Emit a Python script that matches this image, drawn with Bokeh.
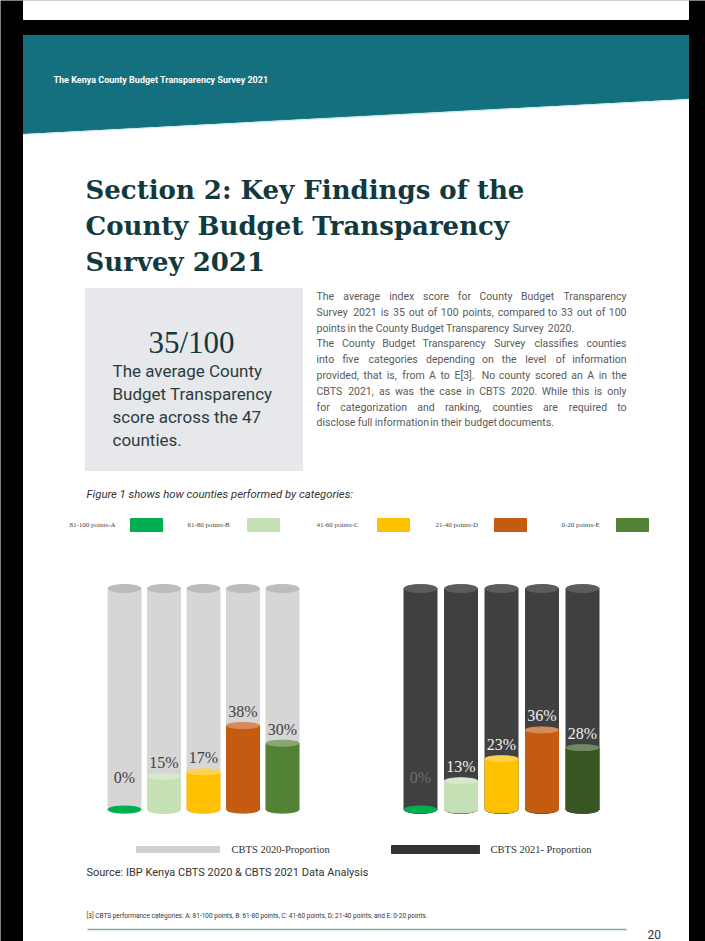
from bokeh.plotting import figure
from bokeh.models import Range1d
from bokeh.core.properties import value
from bokeh.embed import file_html
from bokeh.resources import INLINE

# ---------------- data ----------------
categories = ["A", "B", "C", "D", "E"]
legend_labels = ["81-100 points-A", "61-80 points-B", "41-60 points-C", "21-40 points-D", "0-20 points-E"]
share_2020 = [0, 15, 17, 38, 30]
share_2021 = [0, 13, 23, 36, 28]
colors_2020 = ["#00b050", "#c5e0b4", "#ffc000", "#c55a11", "#548235"]
colors_2021 = ["#00b050", "#c5e0b4", "#ffc000", "#c55a11", "#375623"]
series_names = ["CBTS 2020-Proportion", "CBTS 2021- Proportion"]

header_text = "The Kenya County Budget Transparency Survey 2021"
title_lines = ["Section 2: Key Findings of the", "County Budget Transparency", "Survey 2021"]
score_text = "35/100"
box_lines = ["The average County", "Budget Transparency", "score across the 47", "counties."]
para_lines = [
    "The average index score for County Budget Transparency",
    "Survey 2021 is 35 out of 100 points, compared to 33 out of 100",
    "points in the County Budget Transparency Survey 2020.",
    "The County Budget Transparency Survey classifies counties",
    "into five categories depending on the level of information",
    "provided, that is, from A to E[3]. No county scored an A in the",
    "CBTS 2021, as was the case in CBTS 2020. While this is only",
    "for categorization and ranking, counties are required to",
    "disclose full information in their budget documents.",
]
para_last_lines = [2, 8]   # paragraph-ending lines are not justified
figure_caption = "Figure 1 shows how counties performed by categories:"
source_text = "Source: IBP Kenya CBTS 2020 & CBTS 2021 Data Analysis"
footnote_text = ("[3] CBTS performance categories: A: 81-100 points, B: 61-80 points, "
                 "C: 41-60 points, D: 21-40 points, and E: 0-20 points.")
page_number = "20"

# ---------------- helpers ----------------
def lighten(hex_color, f):
    h = hex_color.lstrip("#")
    r, g, b = (int(h[i:i + 2], 16) for i in (0, 2, 4))
    r = int(r + (255 - r) * f); g = int(g + (255 - g) * f); b = int(b + (255 - b) * f)
    return "#%02x%02x%02x" % (r, g, b)

def est_width(s, size):
    w = 0.0
    for ch in s:
        if ch in "iljI.,:;!|'":
            w += 0.25
        elif ch in "ft[]()r":
            w += 0.34
        elif ch in "mw":
            w += 0.86
        elif ch in "MW":
            w += 0.88
        elif ch == " ":
            w += 0.25
        elif ch.isupper():
            w += 0.64
        elif ch.isdigit():
            w += 0.56
        else:
            w += 0.53
    return w * size

# page geometry (pixel coordinates of the screenshot)
X_MIN, X_MAX, Y_MIN, Y_MAX = 0, 705, 0, 941
BASE_Y, TOP_Y = 809, 588          # cylinder bottom / top on the page
k = (BASE_Y - TOP_Y) / 100.0      # px per percent

p = figure(width=X_MAX - X_MIN, height=Y_MAX - Y_MIN,
           x_range=Range1d(X_MIN, X_MAX), y_range=Range1d(Y_MAX, Y_MIN),
           output_backend="svg", toolbar_location=None, min_border=0,
           x_axis_location=None, y_axis_location=None)
p.grid.visible = False
p.outline_line_color = None
p.background_fill_color = "black"
p.border_fill_color = "black"
p.extra_y_ranges = {"pct": Range1d((BASE_Y - Y_MAX) / k, (BASE_Y - Y_MIN) / k)}

# page background
p.quad(left=[23], right=[688], top=[0], bottom=[19], color="white")
p.quad(left=[23], right=[688], top=[35], bottom=[941], color="white")

# teal header
p.patch([23, 688, 688, 23], [35, 35, 98, 133], color="#14707e")
p.line([23, 688], [134, 99], line_color="#c8eef2", line_width=1.2)
p.text(x=[53], y=[79], text=[header_text], text_color="white", text_font=value("Roboto"),
       text_font_style="bold", text_font_size="9px", text_baseline="middle")

# title
SERIF = value("Liberation Serif")
TSERIF = value("DejaVu Serif")
SANS = value("Roboto")
p.text(x=[85] * 3, y=[189, 225, 261], text=title_lines, text_color="#12393d",
       text_font=TSERIF, text_font_style="bold", text_font_size="26px",
       text_baseline="alphabetic")

# grey box
p.quad(left=[85], right=[302], top=[288], bottom=[470], color="#e6e8eb")
p.text(x=[191], y=[342], text=[score_text], text_color="#12393d", text_font=SERIF,
       text_font_size="31px", text_align="center", text_baseline="alphabetic")
p.text(x=[112] * 4, y=[370 + 23 * i for i in range(4)], text=box_lines, text_color="#2b3c3f",
       text_font=SANS, text_font_size="17px", text_baseline="middle")

# paragraph (justified between 316 and 626)
PX0, PX1, PFS = 316, 626, 10.5
wx, wy, wt, wa = [], [], [], []
for i, line in enumerate(para_lines):
    y = 296 + 15.8 * i
    words = line.split(" ")
    if i in para_last_lines or len(words) == 1:
        x = PX0
        for w in words:
            wx.append(x); wy.append(y); wt.append(w); wa.append("left")
            x += est_width(w + " ", PFS)
        continue
    widths = [est_width(w, PFS) for w in words]
    gap = (PX1 - PX0 - sum(widths)) / (len(words) - 1)
    x = PX0
    for j, w in enumerate(words):
        if j == len(words) - 1:
            wx.append(PX1); wa.append("right")
        else:
            wx.append(x); wa.append("left")
        wy.append(y); wt.append(w)
        x += widths[j] + gap
p.text(x=wx, y=wy, text=wt, text_align=wa, text_color="#5a5a5a", text_font=SANS,
       text_font_size="%.1fpx" % PFS, text_baseline="middle")

# figure caption
p.text(x=[86], y=[494], text=[figure_caption], text_color="#333333", text_font=SANS,
       text_font_style="italic", text_font_size="11.3px", text_baseline="middle")

# category legend
leg_text_x = [69, 187, 316, 435, 561]
leg_sw_x = [130, 247, 377, 494, 616]
p.text(x=leg_text_x, y=[524] * 5, text=legend_labels, text_color="#444444", text_font=SERIF,
       text_font_size="7px", text_baseline="middle")
p.quad(left=leg_sw_x, right=[x + 32 for x in leg_sw_x], top=[518] * 5, bottom=[531] * 5,
       color=colors_2020)

# cylinders
def cylinders(centers, values, colors, body, cap, label_color, zero_label_color):
    w = 33
    p.vbar(x=centers, width=w, bottom=0, top=100, color=body, y_range_name="pct")
    p.ellipse(x=centers, y=[0] * 5, width=w, height=8, height_units="screen",
              color=body, y_range_name="pct")
    p.ellipse(x=centers, y=[100] * 5, width=w, height=8, height_units="screen",
              color=cap, y_range_name="pct")
    p.vbar(x=centers, width=w, bottom=0, top=values, color=colors, y_range_name="pct")
    p.ellipse(x=centers, y=[0] * 5, width=w, height=7, height_units="screen",
              color=colors, y_range_name="pct")
    nz = [i for i, v in enumerate(values) if v > 0]
    p.ellipse(x=[centers[i] for i in nz], y=[values[i] for i in nz], width=w, height=6,
              height_units="screen", color=[lighten(colors[i], 0.3) for i in nz],
              y_range_name="pct")
    lab_y = [max(v, 8) for v in values]
    lab_c = [label_color if v > 0 else zero_label_color for v in values]
    p.text(x=centers, y=lab_y, text=["%d%%" % v for v in values], text_color=lab_c,
           text_font=SERIF, text_font_size="16px", text_align="center",
           text_baseline="middle", y_offset=-14, y_range_name="pct")

left_centers = [124 + 39.5 * i for i in range(5)]
right_centers = [420 + 40.5 * i for i in range(5)]
cylinders(left_centers, share_2020, colors_2020, "#d6d6d6", "#bcbcbc", "#404040", "#404040")
cylinders(right_centers, share_2021, colors_2021, "#404040", "#5c5c5c", "#f0f0f0", "#6e6e6e")

# series legend
p.quad(left=[136], right=[219], top=[846], bottom=[852], color="#d0d0d0")
p.quad(left=[391], right=[479], top=[845], bottom=[853], color="#333333")
p.text(x=[231, 490], y=[849, 849], text=series_names, text_color="#333333", text_font=SERIF,
       text_font_size="10.5px", text_baseline="middle")

# source + footnote
p.text(x=[86], y=[872], text=[source_text], text_color="#333333", text_font=SANS,
       text_font_size="11px", text_baseline="middle")
p.text(x=[86], y=[915], text=[footnote_text], text_color="#333333", text_font=SANS,
       text_font_size="6.5px", text_baseline="middle")
p.line([87, 626], [929, 929], line_color="#7fa4a9", line_width=1.5)
p.text(x=[647], y=[938], text=[page_number], text_color="#333333", text_font=SANS,
       text_font_size="12px", text_baseline="bottom")

open("out.html", "w").write(file_html(p, INLINE))
